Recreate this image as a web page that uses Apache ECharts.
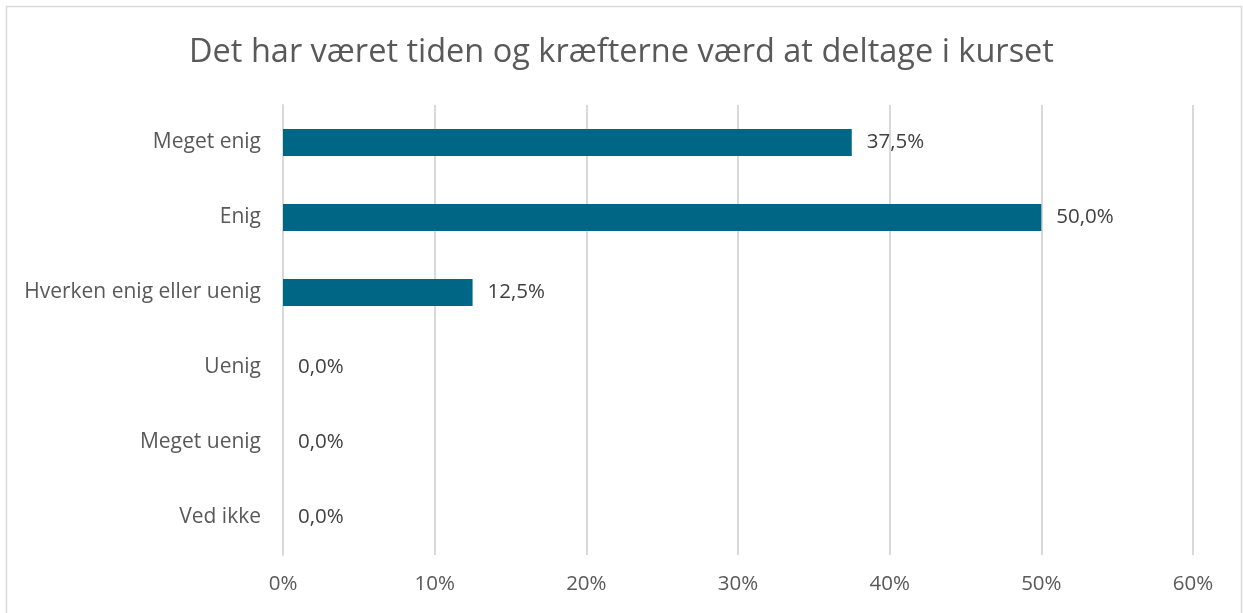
<!DOCTYPE html>
<html>
<head>
<meta charset="utf-8">
<script src="https://cdn.jsdelivr.net/npm/echarts@6/dist/echarts.min.js"></script>
<style>
html, body { margin: 0; padding: 0; background: #fff; }
#chart { width: 1243px; height: 613px; }
</style>
</head>
<body>
<div id="chart"></div>
<script>
// data
var categories = ['Meget enig', 'Enig', 'Hverken enig eller uenig', 'Uenig', 'Meget uenig', 'Ved ikke'];
var values = [37.5, 50.0, 12.5, 0.0, 0.0, 0.0];
var title = 'Det har været tiden og kræfterne værd at deltage i kurset';

var chart = echarts.init(document.getElementById('chart'));
var font = '"Open Sans", "Noto Sans", sans-serif';

var option = {
  backgroundColor: '#fff',
  animation: false,
  textStyle: { fontFamily: font },
  title: {
    text: title,
    left: 'center',
    top: 31,
    textStyle: { fontFamily: font, fontSize: 32.5, fontWeight: 'normal', color: '#595959' }
  },
  graphic: [{
    type: 'rect',
    shape: { x: 6.5, y: 6.5, width: 1235, height: 620 },
    style: { fill: 'none', stroke: '#d9d9d9', lineWidth: 1.5 },
    silent: true
  }],
  grid: { left: 283, right: 50, top: 105, bottom: 58 },
  xAxis: {
    type: 'value',
    min: 0,
    max: 60,
    interval: 10,
    axisLine: { show: false },
    axisTick: { show: false },
    splitLine: { lineStyle: { color: '#d9d9d9', width: 2 } },
    axisLabel: {
      formatter: '{value}%',
      fontFamily: font,
      fontSize: 20.5,
      color: '#595959',
      margin: 19
    }
  },
  yAxis: {
    type: 'category',
    inverse: true,
    data: categories,
    axisLine: { show: true, lineStyle: { color: '#d9d9d9', width: 2 } },
    axisTick: { show: false },
    axisLabel: {
      fontFamily: font,
      fontSize: 21,
      color: '#595959',
      margin: 22
    }
  },
  series: [{
    type: 'bar',
    data: values,
    barWidth: 27,
    itemStyle: { color: '#006685' },
    label: {
      show: true,
      position: 'right',
      distance: 15,
      fontFamily: font,
      fontSize: 20.5,
      color: '#404040',
      formatter: function (p) { return p.value.toFixed(1).replace('.', ',') + '%'; }
    }
  }]
};

chart.setOption(option);
</script>
</body>
</html>
